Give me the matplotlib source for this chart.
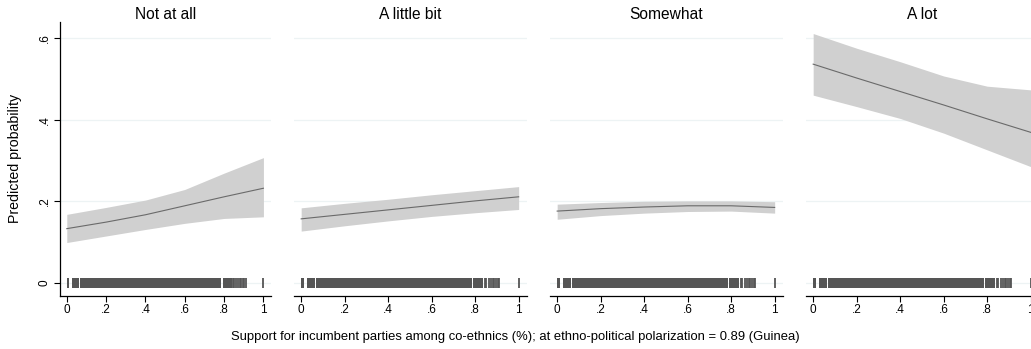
import matplotlib
matplotlib.use("Agg")
import matplotlib.pyplot as plt
import numpy as np

plt.rcParams['font.family'] = ['Liberation Sans', 'DejaVu Sans']

# ---- data ----
panels = ["Not at all", "A little bit", "Somewhat", "A lot"]
x_grid = [0.0, 0.2, 0.4, 0.6, 0.8, 1.0]

pred = {
    "Not at all":   [0.133, 0.149, 0.167, 0.189, 0.211, 0.232],
    "A little bit": [0.157, 0.168, 0.179, 0.190, 0.201, 0.211],
    "Somewhat":     [0.176, 0.182, 0.186, 0.189, 0.189, 0.185],
    "A lot":        [0.536, 0.502, 0.469, 0.436, 0.402, 0.369],
}
upper = {
    "Not at all":   [0.168, 0.185, 0.203, 0.229, 0.269, 0.307],
    "A little bit": [0.184, 0.195, 0.205, 0.216, 0.226, 0.236],
    "Somewhat":     [0.193, 0.197, 0.200, 0.201, 0.201, 0.199],
    "A lot":        [0.611, 0.575, 0.542, 0.507, 0.482, 0.473],
}
lower = {
    "Not at all":   [0.099, 0.115, 0.131, 0.146, 0.158, 0.162],
    "A little bit": [0.127, 0.140, 0.152, 0.163, 0.172, 0.180],
    "Somewhat":     [0.156, 0.165, 0.171, 0.175, 0.176, 0.171],
    "A lot":        [0.460, 0.432, 0.403, 0.367, 0.326, 0.285],
}

# observed values of the support variable (rug): dense ranges and single observations
rug_spans = [(0.000, 0.011), (0.026, 0.063), (0.068, 0.786), (0.792, 0.838)]
rug_points = [0.845, 0.852, 0.862, 0.872, 0.880, 0.888, 0.896, 0.903, 0.910, 1.0]

yticks = [0, 0.2, 0.4, 0.6]
ytick_labels = ["0", ".2", ".4", ".6"]
xticks = [0, 0.2, 0.4, 0.6, 0.8, 1.0]
xtick_labels = ["0", ".2", ".4", ".6", ".8", "1"]

W, H = 1031, 349
fig = plt.figure(figsize=(W / 100, H / 100), dpi=100)

# axes positions in pixels (left, right)
ax_px = [(60.3, 270.7), (294.0, 526.7), (550.0, 782.7), (806.0, 1038.7)]
top_px, bottom_px = 21.7, 296.0

band_color = "#d0d0d0"
line_color = "#6a6a6a"
rug_color = "#555555"
grid_color = "#edf3f4"

for i, (name, (l, r)) in enumerate(zip(panels, ax_px)):
    ax = fig.add_axes([l / W, 1 - bottom_px / H, (r - l) / W, (bottom_px - top_px) / H])
    ax.set_xlim(-0.033, 1.037)
    ax.set_ylim(-0.032, 0.64)
    for y in yticks:
        ax.axhline(y, color=grid_color, lw=0.9, zorder=0)
    ax.fill_between(x_grid, lower[name], upper[name], color=band_color, lw=0,
                    zorder=2)
    ax.plot(x_grid, pred[name], color=line_color, lw=0.8, zorder=3)
    # rug
    ax.broken_barh([(a, b - a) for a, b in rug_spans], (-0.0125, 0.025),
                   facecolor=rug_color, edgecolor="none", zorder=4)
    ax.vlines(rug_points, -0.0125, 0.0125, color=rug_color, lw=1.3, zorder=4)

    for s in ["top", "right"]:
        ax.spines[s].set_visible(False)
    ax.spines["bottom"].set_linewidth(0.9)
    ax.set_xticks(xticks)
    ax.set_xticklabels(xtick_labels, fontsize=8.5)
    ax.tick_params(axis="x", length=4, width=0.8, pad=2, colors="black")
    if i == 0:
        ax.spines["left"].set_linewidth(0.9)
        ax.set_yticks(yticks)
        ax.set_yticklabels(ytick_labels, fontsize=8.5, rotation=90, va="center")
        ax.tick_params(axis="y", length=4, width=0.8, pad=3)
        ax.set_ylabel("Predicted probability", fontsize=10.2, labelpad=12)
    else:
        ax.spines["left"].set_visible(False)
        ax.set_yticks([])
    ax.set_title(name, fontsize=11.2, pad=2)

fig.text(515 / W, 1 - 337 / H, "Support for incumbent parties among co-ethnics (%); at ethno-political polarization = 0.89 (Guinea)",
         ha="center", va="center", fontsize=9.4)

fig.savefig("out.png", dpi=100, facecolor="white")
